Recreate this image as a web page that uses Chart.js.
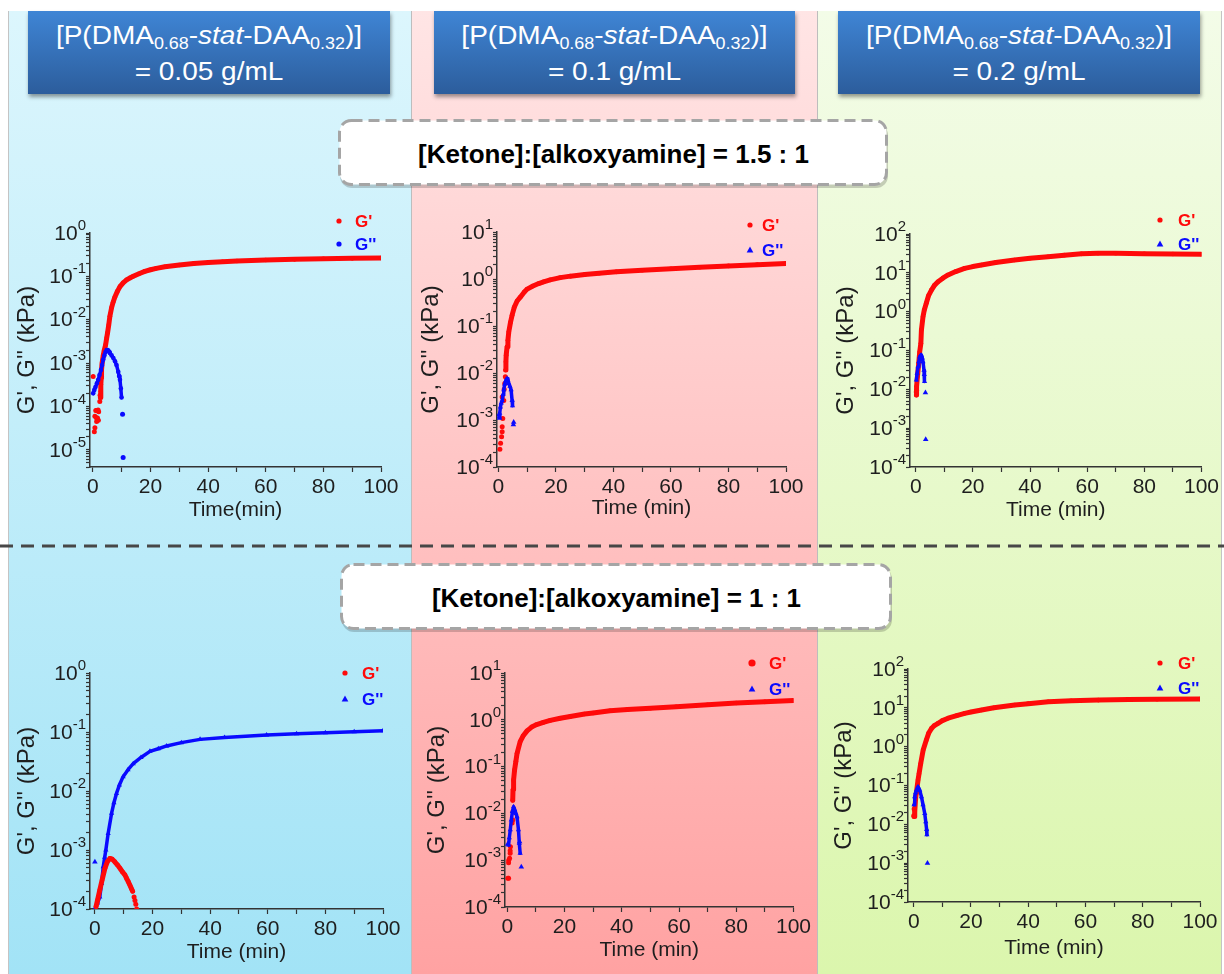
<!DOCTYPE html>
<html><head><meta charset="utf-8">
<script src="https://cdn.jsdelivr.net/npm/chart.js@4.4.1/dist/chart.umd.min.js"></script>
<style>
html,body{margin:0;padding:0;background:#fff;}
#stage{position:relative;width:1224px;height:974px;overflow:hidden;font-family:'Liberation Sans',Arial,sans-serif;}
.col{position:absolute;top:11px;height:963px;box-sizing:border-box;}
#col1{left:8px;width:403px;background:linear-gradient(#dcf6fd,#a2e3f6);border-left:1px solid #c4c4c4;}
#col2{left:411px;width:406px;background:linear-gradient(#ffe5e5,#ffa2a2);border-left:1px solid #bdbdbd;}
#col3{left:817px;width:405px;background:linear-gradient(#f3fce8,#dbf6ad);border-left:1px solid #bdbdbd;border-right:1px solid #c4c4c4;}
.hdr{position:absolute;top:11px;height:83px;background:linear-gradient(#3f85d5,#2c5d9c);box-shadow:1px 3px 4px rgba(0,0,0,0.4);color:#fff;}
.hdr .ln{position:absolute;left:0;right:0;text-align:center;font-size:25px;line-height:29px;white-space:nowrap;transform:scaleX(1.12);}
.hdr sub{font-size:16px;vertical-align:-5px;line-height:0;}
.kbox{position:absolute;display:flex;align-items:center;justify-content:center;font-weight:bold;font-size:26px;color:#000;padding-top:3px;box-sizing:border-box;}
svg{position:absolute;left:0;top:0;}
canvas{position:absolute;}
</style>
</head><body>
<div id="stage">
  <div class="col" id="col1"></div>
  <div class="col" id="col2"></div>
  <div class="col" id="col3"></div>
  <svg width="1224" height="974">
    <line x1="0" y1="546" x2="1224" y2="546" stroke="#474747" stroke-width="3" stroke-dasharray="13 8"/>
    <rect x="340" y="123" width="548" height="65" rx="12" fill="rgba(0,0,0,0.18)"/>
    <rect x="339.5" y="120.5" width="547" height="64" rx="12" fill="#fff" stroke="#a5a5a5" stroke-width="3" stroke-dasharray="11 6"/>
    <rect x="342" y="567" width="550" height="65" rx="12" fill="rgba(0,0,0,0.18)"/>
    <rect x="341.5" y="564.5" width="549" height="64" rx="12" fill="#fff" stroke="#a5a5a5" stroke-width="3" stroke-dasharray="11 6"/>
  </svg>
  <div id="headers"></div>
  <div class="kbox" id="kb1" style="left:340px;top:121px;width:547px;height:64px;"></div>
  <div class="kbox" id="kb2" style="left:342px;top:565px;width:549px;height:64px;"></div>
</div>
<script>
// ---------------- text ----------------
const CONC = ['0.05', '0.1', '0.2'];
const RATIOS = ['1.5 : 1', '1 : 1'];
const SERIES = ["G'", "G''"];
const Y_TITLE = "G', G'' (kPa)";
const X_TITLES = ['Time(min)', 'Time (min)', 'Time (min)', 'Time (min)', 'Time (min)', 'Time (min)'];
const X_MAJOR = [0, 20, 40, 60, 80, 100];
const X_MINOR = [10, 30, 50, 70, 90];

// ---------------- data: [time (min), modulus (kPa)] ----------------
// Panel 1: 0.05 g/mL, 1.5:1
const P1_GP_LINE = [[2.6,1.6e-4],[2.7,2.2e-4],[2.8,3.2e-4],[2.9,4.5e-4],[3.0,7e-4],[3.2,1.0e-3],[3.6,1.5e-3],[3.9,1.9e-3],[4.4,2.6e-3],[4.8,3.8e-3],[5.1,5e-3],[5.5,7.5e-3],[5.9,0.012],[6.5,0.019],[7.0,0.025],[7.6,0.033],[8.5,0.045],[9.4,0.058],[10.5,0.071],[11.7,0.083],[13,0.093],[14,0.1],[16,0.115],[18,0.13],[20,0.142],[22,0.153],[25,0.167],[30,0.183],[35,0.197],[40,0.208],[45,0.218],[50,0.226],[60,0.238],[70,0.247],[80,0.254],[90,0.26],[100,0.265]];
const P1_GP_DOTS = [[0.1,4.9e-4],[0.5,2.6e-5],[0.7,3.2e-5],[0.7,5.9e-5],[1.0,8e-5],[1.2,5.5e-5],[1.3,4.5e-5],[1.3,8e-5],[1.6,5.4e-5],[1.8,8.3e-5],[1.9,4.8e-5],[2.0,7.5e-5],[2.4,1.3e-4],[2.5,1.8e-4]];
const P1_GPP_LINE = [[0.1,2.0e-4],[0.5,2.4e-4],[0.9,2.8e-4],[1.4,3.4e-4],[1.85,4.1e-4],[2.3,5.3e-4],[2.8,6.9e-4],[3.2,9e-4],[3.6,1.2e-3],[4.0,1.5e-3],[4.4,1.8e-3],[4.8,2.0e-3],[5.2,2.0e-3],[5.6,1.85e-3],[5.9,1.7e-3],[6.5,1.5e-3],[7.1,1.3e-3],[7.7,1.1e-3],[8.2,9e-4],[8.8,6.3e-4],[9.1,5e-4],[9.4,4.1e-4],[9.7,2.6e-4],[9.95,1.6e-4]];
const P1_GPP_DOTS = [[10.3,6.6e-5],[10.5,6.6e-6]];
// Panel 2: 0.1 g/mL, 1.5:1
const P2_GP_LINE = [[2.5,0.0116],[2.6,0.0174],[2.7,0.024],[3.0,0.036],[3.3,0.05],[3.6,0.075],[4.2,0.12],[4.75,0.17],[5.5,0.25],[6.5,0.34],[7.6,0.41],[9,0.53],[10,0.61],[12,0.71],[14,0.8],[15.7,0.87],[18,0.96],[21.5,1.07],[25,1.15],[30,1.25],[35,1.33],[41,1.42],[50,1.53],[60,1.65],[70,1.78],[80,1.9],[90,2.02],[100,2.13]];
const P2_GP_DOTS = [[0.5,2.4e-4],[0.75,3.2e-4],[1.1,4.4e-4],[1.3,5.6e-4],[1.3,7.2e-4],[1.5,1.07e-3],[1.3,3.1e-3],[1.85,2.6e-3],[2.0,4.5e-3],[2.2,6e-3],[2.4,8.3e-3]];
const P2_GPP_LINE = [[0.3,1.17e-3],[0.45,1.4e-3],[0.7,1.9e-3],[1.0,2.3e-3],[1.3,2.6e-3],[1.6,3.5e-3],[1.85,4.4e-3],[2.2,5.8e-3],[2.6,7e-3],[3.0,7.6e-3],[3.3,7e-3],[3.6,6e-3],[4.0,5.2e-3],[4.4,4.4e-3],[4.75,2.6e-3],[4.9,2e-3]];
const P2_GPP_DOTS = [[0.2,1.3e-3],[0.4,1.1e-3],[5.2,8e-4],[5.3,9e-4]];
// Panel 3: 0.2 g/mL, 1.5:1
const P3_GP_LINE = [[0.23,7.1e-3],[0.3,0.0118],[0.6,0.021],[1.05,0.047],[1.4,0.093],[1.8,0.153],[2.0,0.34],[2.55,0.74],[3.0,1.1],[3.7,1.64],[4.5,2.6],[5.5,3.6],[6.5,4.7],[7.8,5.9],[9.5,7.3],[11.3,8.8],[14,10.8],[17.1,13],[20,14.5],[23,15.9],[28,18.5],[34.6,21.4],[40,23.8],[46.3,26],[52,28.5],[58,30.8],[63.8,32],[70,31.8],[80,31],[90,30.5],[100,30]];
const P3_GP_DOTS = [[0.2,8.5e-3],[0.3,9.5e-3]];
const P3_GPP_LINE = [[0.23,0.0174],[0.5,0.026],[0.8,0.038],[1.1,0.052],[1.4,0.069],[1.7,0.074],[2.0,0.076],[2.3,0.064],[2.55,0.051],[2.9,0.031],[3.0,0.024],[3.1,0.016]];
const P3_GPP_DOTS = [[3.4,8.2e-3],[3.5,5.1e-4]];
// Panel 4: 0.05 g/mL, 1:1
const P4_GP_LINE = [[0.4,1.1e-4],[0.9,1.4e-4],[1.7,2.1e-4],[2.5,3.1e-4],[3.5,4.9e-4],[4.3,6.3e-4],[5.2,7.2e-4],[6.0,7e-4],[6.9,6.3e-4],[7.8,5.6e-4],[8.7,4.9e-4],[9.5,4.3e-4],[10.4,3.8e-4],[11.0,3.3e-4],[11.6,2.9e-4],[12.2,2.5e-4],[12.7,2.2e-4],[13.1,2.0e-4]];
const P4_GP_DOTS = [[13.6,1.6e-4],[13.9,1.4e-4],[14.2,1.2e-4],[14.5,1.0e-4]];
const P4_GPP_LINE = [[0,1.0e-4],[0.9,1.26e-4],[1.7,1.6e-4],[2.3,2.7e-4],[2.9,5.2e-4],[3.4,7.5e-4],[3.8,1.0e-3],[4.6,1.9e-3],[5.8,4.2e-3],[6.6,6.3e-3],[7.5,9.1e-3],[8.5,0.0126],[9.8,0.0175],[11.5,0.023],[13.3,0.029],[16,0.037],[19.1,0.047],[22,0.052],[24.9,0.058],[30,0.066],[36.5,0.075],[45,0.081],[59.6,0.089],[70,0.093],[80,0.097],[90,0.101],[100,0.105]];
const P4_GPP_DOTS = [[0,6.3e-4]];
// Panel 5: 0.1 g/mL, 1:1
const P5_GP_LINE = [[1.9,0.019],[2.0,0.032],[2.2,0.052],[2.55,0.085],[3.0,0.13],[3.4,0.19],[4.5,0.34],[5.5,0.45],[6.9,0.58],[8.5,0.7],[10,0.78],[12.6,0.88],[15,0.97],[18.5,1.08],[22,1.18],[27,1.33],[30,1.4],[35.9,1.56],[42,1.66],[50,1.77],[59,1.9],[70,2.1],[80,2.28],[90,2.42],[100,2.57]];
const P5_GP_DOTS = [[0.2,4.1e-4],[0.45,4.1e-4],[0.45,8.8e-4],[0.5,1.0e-3],[0.8,1.1e-3],[1.0,1.4e-3],[1.0,1.6e-3],[1.1,1.95e-3],[1.7,6.2e-3],[1.9,7.2e-3],[2.0,0.011]];
const P5_GPP_LINE = [[0.45,2.1e-3],[0.7,3e-3],[1.05,4.5e-3],[1.4,7.2e-3],[1.8,0.011],[2.2,0.0138],[2.6,0.012],[3.0,0.01],[3.4,8.5e-3],[3.9,4.5e-3],[4.2,2.3e-3],[4.5,1.4e-3]];
const P5_GPP_DOTS = [[0.1,2.2e-3],[4.3,2.5e-3],[4.9,7.2e-4]];
// Panel 6: 0.2 g/mL, 1:1
const P6_GP_LINE = [[0.1,0.016],[0.35,0.021],[0.7,0.051],[0.9,0.063],[1.5,0.138],[1.85,0.2],[2.45,0.37],[3.3,0.82],[4.4,1.48],[5.2,2.2],[6.2,2.95],[7.2,3.5],[8.5,4.0],[10,4.7],[12,5.4],[15,6.3],[17.8,7.2],[20,7.8],[23.7,8.8],[28,10],[35.3,11.8],[40,12.8],[47,14.4],[55,15.2],[64.5,15.8],[75,16.3],[85,16.6],[100,16.9]];
const P6_GP_DOTS = [[0.05,0.017],[0.15,0.025]];
const P6_GPP_LINE = [[0.1,0.032],[0.35,0.051],[0.65,0.065],[0.95,0.076],[1.5,0.093],[2.1,0.076],[2.7,0.051],[3.25,0.032],[3.85,0.019],[4.2,0.0117],[4.5,7.4e-3],[4.6,5.4e-3]];
const P6_GPP_DOTS = [[4.8,1e-3]];

// ---------------- page text ----------------
const HDR_POS = [[28,362],[434,361],[838,362]];
const hdrs = document.getElementById('headers');
CONC.forEach((c,i)=>{
  const d = document.createElement('div');
  d.className = 'hdr';
  d.style.left = HDR_POS[i][0]+'px'; d.style.width = HDR_POS[i][1]+'px';
  d.innerHTML = '<div class="ln" style="top:10px">[P(DMA<sub>0.68</sub>-<i>stat</i>-DAA<sub>0.32</sub>)]</div>' +
                '<div class="ln" style="top:46px">= ' + c + ' g/mL</div>';
  hdrs.appendChild(d);
});
document.getElementById('kb1').textContent = '[Ketone]:[alkoxyamine] = ' + RATIOS[0];
document.getElementById('kb2').textContent = '[Ketone]:[alkoxyamine] = ' + RATIOS[1];

// ---------------- charts ----------------
const FONT = "'Liberation Sans', Arial, sans-serif";
const RED = '#ff0a0a', BLUE = '#0a0aff', INK = '#1e1e1e';
const pts = a => a.map(p=>({x:p[0], y:p[1]}));

// legend drawn inside the plot frame, top-right
const miniLegend = {
  id: 'miniLegend',
  afterDraw(chart, args, o) {
    const ctx = chart.ctx; ctx.save();
    o.items.forEach(it => {
      ctx.fillStyle = it.color;
      ctx.beginPath();
      if (it.style === 'triangle') {
        const r = it.r;
        ctx.moveTo(it.x, it.y - r); ctx.lineTo(it.x + r*0.95, it.y + r*0.7); ctx.lineTo(it.x - r*0.95, it.y + r*0.7); ctx.closePath();
      } else {
        ctx.arc(it.x, it.y, it.r, 0, Math.PI*2);
      }
      ctx.fill();
      ctx.font = 'bold 17px ' + FONT;
      ctx.textBaseline = 'middle';
      ctx.fillText(it.text, it.tx, it.y + 1);
    });
    ctx.restore();
  }
};

// power-of-ten tick labels with a raised exponent, taken from the y scale's own ticks
const powLabels = {
  id: 'powLabels',
  afterDraw(chart) {
    const s = chart.scales.y, ctx = chart.ctx;
    ctx.save();
    ctx.fillStyle = INK;
    ctx.textBaseline = 'middle';
    ctx.textAlign = 'left';
    s.ticks.forEach(t => {
      if (!t.label) return;
      const e = String(Math.round(Math.log10(t.value)));
      const yy = s.getPixelForValue(t.value);
      ctx.font = '15px ' + FONT;
      const we = ctx.measureText(e).width;
      ctx.font = '21px ' + FONT;
      const wb = ctx.measureText('10').width;
      const R = s.right - 4;
      ctx.fillText('10', R - we - wb, yy + 1);
      ctx.font = '15px ' + FONT;
      ctx.fillText(e, R - we, yy - 7);
    });
    ctx.restore();
  }
};

function ds(label, data, color, style, line, lw, r) {
  return { label, data: pts(data), showLine: line, borderColor: color, backgroundColor: color,
    borderWidth: lw, pointRadius: r, pointHoverRadius: r, pointStyle: style, pointBorderWidth: 0,
    pointBackgroundColor: color, borderCapStyle: 'round', borderJoinStyle: 'round', tension: 0 };
}

function panel(P) {
  const cv = document.createElement('canvas');
  cv.width = P.cw; cv.height = P.ch;
  cv.style.left = P.cx + 'px'; cv.style.top = P.cy + 'px';
  cv.style.width = P.cw + 'px'; cv.style.height = P.ch + 'px';
  document.getElementById('stage').appendChild(cv);
  const A = P.area;
  const yTicks = [];
  for (let e = Math.floor(Math.log10(P.yMin) - 1e-9); e <= Math.round(Math.log10(P.yMax)); e++) {
    for (let k = 1; k <= 9; k++) {
      const v = k * Math.pow(10, e);
      if (v >= P.yMin * 0.999 && v <= P.yMax * 1.001) yTicks.push({value: v});
    }
  }
  const xTicks = X_MAJOR.concat(X_MINOR).sort((a,b)=>a-b);
  const gs = P.gppStyle;
  const gpp = [ds(SERIES[1], P.gppLine, BLUE, gs, true, 3.5, gs==='triangle'?3:2.3),
               ds(SERIES[1], P.gppDots, BLUE, gs, false, 0, gs==='triangle'?3.2:2.5)];
  const gp = [ds(SERIES[0], P.gpLine, RED, 'circle', true, 5, 2.3),
              ds(SERIES[0], P.gpDots, RED, 'circle', false, 0, 2.5)];
  const datasets = P.gppOnTop ? gpp.concat(gp) : gp.concat(gpp);
  const L = P.leg;
  new Chart(cv, {
    type: 'scatter',
    data: { datasets },
    options: {
      responsive: false, animation: false, events: [],
      layout: { padding: { left: 0, bottom: 0, top: A.t - P.cy, right: P.cx + P.cw - A.r } },
      plugins: {
        legend: { display: false }, tooltip: { enabled: false },
        miniLegend: { items: [
          { text: SERIES[0], color: RED, style: 'circle', r: L.r1, x: L.mx - P.cx, y: L.y1 - P.cy, tx: L.tx - P.cx },
          { text: SERIES[1], color: BLUE, style: gs, r: gs==='triangle'?3.5:2.6, x: L.mx - P.cx, y: L.y2 - P.cy, tx: L.tx - P.cx }
        ] }
      },
      scales: {
        x: {
          type: 'linear', position: 'bottom', min: P.xMin, max: 100,
          afterBuildTicks: s => { s.ticks = xTicks.map(v=>({value:v})); },
          afterFit: s => { s.height = P.cy + P.ch - A.b; },
          ticks: { autoSkip: false, maxRotation: 0, padding: 3, color: INK,
            font: { size: 21, family: FONT },
            callback: v => X_MAJOR.includes(v) ? String(v) : '' },
          grid: { display: true, drawOnChartArea: false, drawTicks: true, tickLength: 5, tickColor: '#333', tickWidth: 1.2 },
          border: { display: true, color: '#333', width: 1.5 },
          title: { display: true, text: P.xTitle, color: INK, font: { size: 21, family: FONT }, padding: { top: 0, bottom: P.xTitlePad } }
        },
        y: {
          type: 'logarithmic', position: 'left', min: P.yMin, max: P.yMax,
          afterBuildTicks: s => { s.ticks = yTicks.map(t=>({value:t.value})); },
          afterFit: s => { s.width = A.l - P.cx; },
          ticks: { autoSkip: false, padding: 3, color: 'rgba(0,0,0,0)', font: { size: 21, family: FONT },
            callback: v => { const e = Math.round(Math.log10(v)); return Math.abs(v - Math.pow(10,e)) < 1e-6*Math.pow(10,e) ? '10^' + e : ''; } },
          grid: { display: true, drawOnChartArea: false, drawTicks: true, tickLength: 4, tickColor: '#333', tickWidth: 1.2 },
          border: { display: true, color: '#333', width: 1.5 },
          title: { display: true, text: Y_TITLE, color: INK, font: { size: 24, family: FONT }, padding: { top: P.yTitlePad, bottom: 0 } }
        }
      }
    },
    plugins: [miniLegend, powLabels]
  });
}

panel({ cx:10, cy:200, cw:395, ch:330, area:{l:90,r:381,t:233,b:467}, xMin:-1, yMin:4e-6, yMax:1,
  xTitle:X_TITLES[0], xTitlePad:7, yTitlePad:3, gppStyle:'circle', gppOnTop:true,
  leg:{mx:339, tx:355, y1:221, y2:244, r1:2.6},
  gpLine:P1_GP_LINE, gpDots:P1_GP_DOTS, gppLine:P1_GPP_LINE, gppDots:P1_GPP_DOTS });
panel({ cx:414, cy:200, cw:398, ch:330, area:{l:497,r:786,t:232,b:467}, xMin:-0.5, yMin:1e-4, yMax:10,
  xTitle:X_TITLES[1], xTitlePad:9, yTitlePad:3, gppStyle:'triangle', gppOnTop:true,
  leg:{mx:750, tx:762, y1:225, y2:250, r1:2.6},
  gpLine:P2_GP_LINE, gpDots:P2_GP_DOTS, gppLine:P2_GPP_LINE, gppDots:P2_GPP_DOTS });
panel({ cx:828, cy:200, cw:394, ch:330, area:{l:910,r:1202,t:234,b:467}, xMin:-2, yMin:1e-4, yMax:100,
  xTitle:X_TITLES[2], xTitlePad:7, yTitlePad:4, gppStyle:'triangle', gppOnTop:true,
  leg:{mx:1160, tx:1178, y1:220, y2:244, r1:2.6},
  gpLine:P3_GP_LINE, gpDots:P3_GP_DOTS, gppLine:P3_GPP_LINE, gppDots:P3_GPP_DOTS });
panel({ cx:10, cy:640, cw:397, ch:334, area:{l:90,r:383,t:673,b:909}, xMin:-1.7, yMin:1e-4, yMax:1,
  xTitle:X_TITLES[3], xTitlePad:9, yTitlePad:3, gppStyle:'triangle', gppOnTop:false,
  leg:{mx:345, tx:362, y1:673, y2:699, r1:2.6},
  gpLine:P4_GP_LINE, gpDots:P4_GP_DOTS, gppLine:P4_GPP_LINE, gppDots:P4_GPP_DOTS });
panel({ cx:420, cy:640, cw:394, ch:334, area:{l:505,r:794,t:673,b:907}, xMin:-0.8, yMin:1e-4, yMax:10,
  xTitle:X_TITLES[4], xTitlePad:11, yTitlePad:3, gppStyle:'triangle', gppOnTop:true,
  leg:{mx:752, tx:769, y1:663, y2:689, r1:3.6},
  gpLine:P5_GP_LINE, gpDots:P5_GP_DOTS, gppLine:P5_GPP_LINE, gppDots:P5_GPP_DOTS });
panel({ cx:826, cy:640, cw:396, ch:334, area:{l:908,r:1200,t:669,b:902}, xMin:-2, yMin:1e-4, yMax:100,
  xTitle:X_TITLES[5], xTitlePad:13, yTitlePad:4, gppStyle:'triangle', gppOnTop:true,
  leg:{mx:1160, tx:1178, y1:663, y2:688, r1:2.6},
  gpLine:P6_GP_LINE, gpDots:P6_GP_DOTS, gppLine:P6_GPP_LINE, gppDots:P6_GPP_DOTS });
</script>
</body></html>
